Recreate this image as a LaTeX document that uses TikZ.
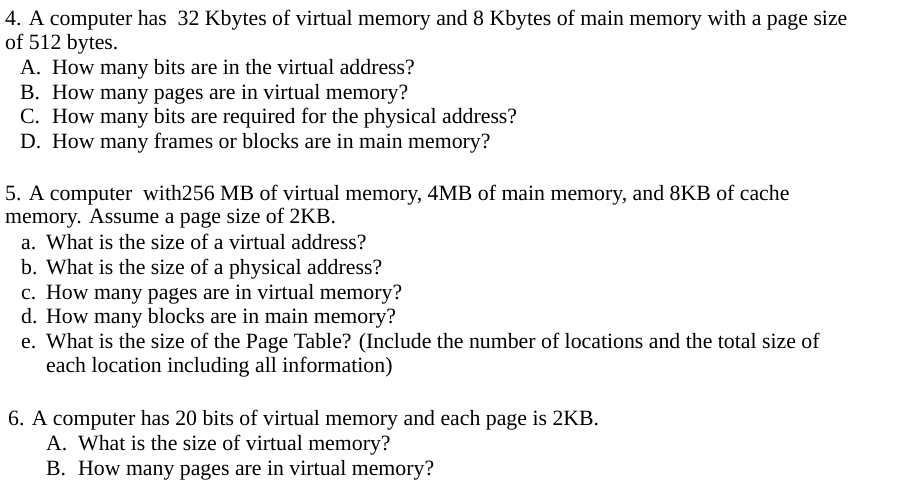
\documentclass[tikz,border=0pt]{standalone}
\usepackage{fontspec}
\setmainfont{Liberation Serif}
\begin{document}
\begin{tikzpicture}[x=1pt,y=1pt,t/.style={anchor=base west,inner sep=0pt,font=\fontsize{21.8}{24}\selectfont}]
\useasboundingbox (0,0) rectangle (918,-490);
\node[t] (l1) at (5,-25) {4. A computer has\ \ 32 Kbytes of virtual memory and 8 Kbytes of main memory with a page size};
\node[t] (l2) at (5,-49) {of 512 bytes.};
\node[t] (a4) at (20,-74) {A.}; \node[t] (a4t) at (52,-74) {How many bits are in the virtual address?};
\node[t] (b4) at (20,-99) {B.}; \node[t] (b4t) at (52,-99) {How many pages are in virtual memory?};
\node[t] (c4) at (20,-123) {C.}; \node[t] (c4t) at (52,-123) {How many bits are required for the physical address?};
\node[t] (d4) at (20,-148) {D.}; \node[t] (d4t) at (52,-148) {How many frames or blocks are in main memory?};
\node[t] (l5) at (5,-200) {5. A computer\ \ with256 MB of virtual memory, 4MB of main memory, and 8KB of cache};
\node[t] (l5b) at (5,-223) {memory. Assume a page size of 2KB.};
\node[t] (a5) at (21,-249) {a.}; \node[t] (a5t) at (46,-249) {What is the size of a virtual address?};
\node[t] (b5) at (21,-274) {b.}; \node[t] (b5t) at (46,-274) {What is the size of a physical address?};
\node[t] (c5) at (21,-299) {c.}; \node[t] (c5t) at (46,-299) {How many pages are in virtual memory?};
\node[t] (d5) at (21,-323) {d.}; \node[t] (d5t) at (46,-323) {How many blocks are in main memory?};
\node[t] (e5) at (21,-348) {e.}; \node[t] (e5t) at (46,-348) {What is the size of the Page Table? (Include the number of locations and the total size of};
\node[t] (e5u) at (46,-372) {each location including all information)};
\node[t] (l6) at (8,-425) {6. A computer has 20 bits of virtual memory and each page is 2KB.};
\node[t] (a6) at (46,-450) {A.}; \node[t] (a6t) at (78,-450) {What is the size of virtual memory?};
\node[t] (b6) at (46,-475) {B.}; \node[t] (b6t) at (78,-475) {How many pages are in virtual memory?};
\end{tikzpicture}
\end{document}
